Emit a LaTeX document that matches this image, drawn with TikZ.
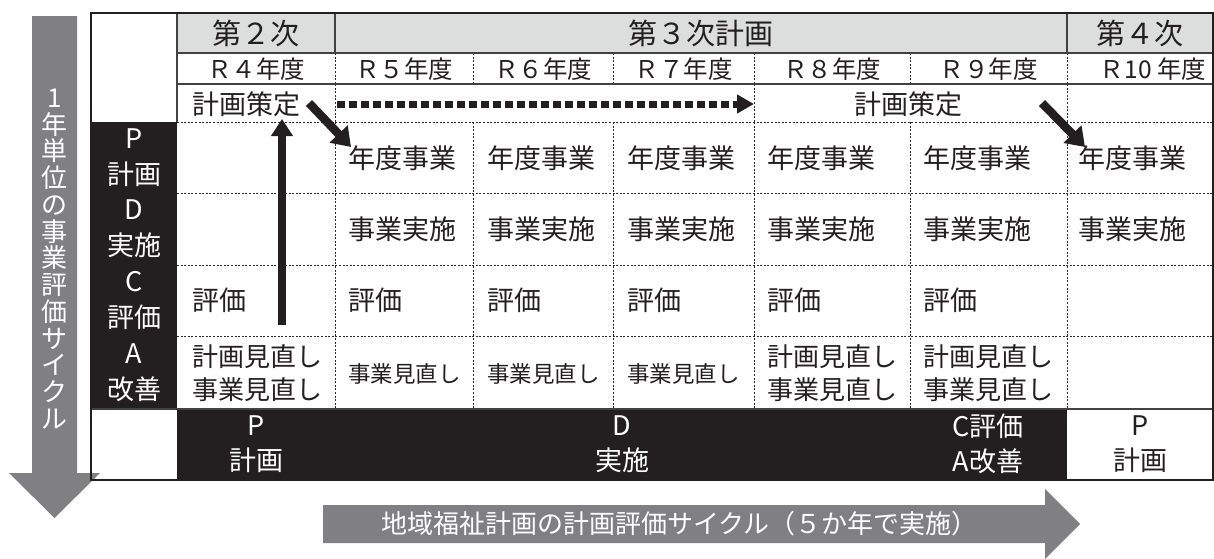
\documentclass[tikz,border=0pt]{standalone}
\usepackage{fontspec}
\setmainfont{Noto Sans CJK JP}
\usetikzlibrary{arrows.meta}
\definecolor{ink}{HTML}{231F20}
\definecolor{hdr}{HTML}{DCDDDD}
\definecolor{agray}{HTML}{808083}
\definecolor{dotc}{HTML}{2A2A2A}
\begin{document}
\begin{tikzpicture}[x=1pt,y=-1pt,
  every node/.style={inner sep=0pt,text=ink},
  celltxt/.style={anchor=west,font=\fontsize{27}{33}\selectfont,align=left},
  smalltxt/.style={anchor=west,font=\fontsize{22.5}{27}\selectfont},
  hdrtxt/.style={font=\fontsize{29}{30}\selectfont},
  yeartxt/.style={font=\fontsize{24.5}{26}\selectfont},
  labtxt/.style={font=\fontsize{27}{36}\selectfont,align=center,text=white},
  bottxt/.style={font=\fontsize{27}{35}\selectfont,align=center,text=white},
  dotline/.style={dotc,line width=1pt,dash pattern=on 2pt off 1.6pt},
  gridline/.style={ink!85,line width=1.3pt},
  blkarrow/.style={ink,line width=8pt,-{Triangle[length=17pt,width=21pt]}},
  diagarrow/.style={ink,line width=8.5pt,-{Triangle[length=18pt,width=24pt]}},
  dasharrow/.style={ink,line width=7pt,dash pattern=on 8pt off 4pt,-{Triangle[length=17pt,width=18pt]}}
]
\useasboundingbox (0,0) rectangle (1214,558);

% gray big arrows
\fill[agray] (32,16) -- (77,16) -- (77,473) -- (100,473) -- (54.5,518) -- (9,473) -- (32,473) -- cycle;
\fill[agray] (323,505) -- (1045,505) -- (1045,489) -- (1080,524) -- (1045,559) -- (1045,543) -- (323,543) -- cycle;
\node[font=\fontsize{26}{26.75}\selectfont,text=white,align=center] (vtext) at (54.5,259)
  {1\\年\\単\\位\\の\\事\\業\\評\\価\\サ\\イ\\ク\\ル};
\node[font=\fontsize{26}{28}\selectfont,text=white,anchor=west] (htext) at (381,524)
  {地域福祉計画の計画評価サイクル（５か年で実施）};

% fills
\fill[hdr] (177,13) rectangle (1213,53);
\fill[ink] (91,122) rectangle (177,409);
\fill[ink] (177,409) rectangle (1067,480);

% dotted grid
\foreach \x in {335,473,613,754,910,1067} {
  \draw[dotline] (\x,53) -- (\x,84);
  \draw[dotline] (\x,122) -- (\x,409);
}
\foreach \x in {335,754,1067} \draw[dotline] (\x,84) -- (\x,122);
\foreach \y in {122,193,265,336} \draw[dotline] (177,\y) -- (1213,\y);

% solid lines
\draw[gridline] (335,13) -- (335,53);
\draw[gridline] (1067,13) -- (1067,53);
\draw[gridline] (177,53) -- (1213,53);
\draw[gridline] (177,84) -- (1213,84);
\draw[gridline] (177,13) -- (177,122);
\draw[gridline] (91,409) -- (1213,409);
\draw[ink,line width=2pt] (91,13) rectangle (1213,480);

% header
\node[hdrtxt] (hdr2) at (256,33) {第２次};
\node[hdrtxt] (hdr3) at (701,33) {第３次計画};
\node[hdrtxt] (hdr4) at (1140,33) {第４次};
\node[yeartxt] (y4) at (256,69) {Ｒ４年度};
\node[yeartxt] (y5) at (404,69) {Ｒ５年度};
\node[yeartxt] (y6) at (543,69) {Ｒ６年度};
\node[yeartxt] (y7) at (683.5,69) {Ｒ７年度};
\node[yeartxt] (y8) at (832,69) {Ｒ８年度};
\node[yeartxt] (y9) at (988.5,69) {Ｒ９年度};
\node[yeartxt] (y10) at (1153,69) {Ｒ10 年度};

% plan row
\node[celltxt] (plan4) at (192,104) {計画策定};
\node[celltxt,anchor=center] (plan89) at (908,104) {計画策定};

% left labels
\node[labtxt] (labP) at (134,157.5) {P\\計画};
\node[labtxt] (labD) at (134,229) {D\\実施};
\node[labtxt] (labC) at (134,300.5) {C\\評価};
\node[labtxt] (labA) at (134,372.5) {A\\改善};

% P row
\node[celltxt] (p5) at (348,158) {年度事業};
\node[celltxt] (p6) at (487,158) {年度事業};
\node[celltxt] (p7) at (627,158) {年度事業};
\node[celltxt] (p8) at (767,158) {年度事業};
\node[celltxt] (p9) at (923,158) {年度事業};
\node[celltxt] (p10) at (1078,158) {年度事業};
% D row
\node[celltxt] (d5) at (348,229) {事業実施};
\node[celltxt] (d6) at (487,229) {事業実施};
\node[celltxt] (d7) at (627,229) {事業実施};
\node[celltxt] (d8) at (767,229) {事業実施};
\node[celltxt] (d9) at (923,229) {事業実施};
\node[celltxt] (d10) at (1078,229) {事業実施};
% C row
\node[celltxt] (c4) at (192,300.5) {評価};
\node[celltxt] (c5) at (348,300.5) {評価};
\node[celltxt] (c6) at (487,300.5) {評価};
\node[celltxt] (c7) at (627,300.5) {評価};
\node[celltxt] (c8) at (767,300.5) {評価};
\node[celltxt] (c9) at (923,300.5) {評価};
% A row
\node[celltxt,font=\fontsize{26}{32.5}\selectfont] (a4) at (192,373) {計画見直し\\事業見直し};
\node[smalltxt] (a5) at (348,374) {事業見直し};
\node[smalltxt] (a6) at (487,374) {事業見直し};
\node[smalltxt] (a7) at (627,374) {事業見直し};
\node[celltxt,font=\fontsize{26}{32.5}\selectfont] (a8) at (767,373) {計画見直し\\事業見直し};
\node[celltxt,font=\fontsize{26}{32.5}\selectfont] (a9) at (923,373) {計画見直し\\事業見直し};

% bottom row
\node[bottxt] (botP) at (256,444) {P\\計画};
\node[bottxt] (botD) at (622,444) {D\\実施};
\node[bottxt] (botCA) at (988,444) {C評価\\A改善};
\node[bottxt,text=ink] (botP2) at (1140,444) {P\\計画};

% connectors
\coordinate (upS) at (282,325);
\coordinate (upE) at (282,119);
\draw[blkarrow] (upS) -- (upE);
\coordinate (d1s) at (309,103);
\coordinate (d1e) at (351,147);
\draw[diagarrow] (d1s) -- (d1e);
\coordinate (d2s) at (1042,103);
\coordinate (d2e) at (1085,147);
\draw[diagarrow] (d2s) -- (d2e);
\coordinate (dashS) at (337,104);
\coordinate (dashE) at (754,104);
\draw[dasharrow] (dashS) -- (dashE);
\end{tikzpicture}
\end{document}
